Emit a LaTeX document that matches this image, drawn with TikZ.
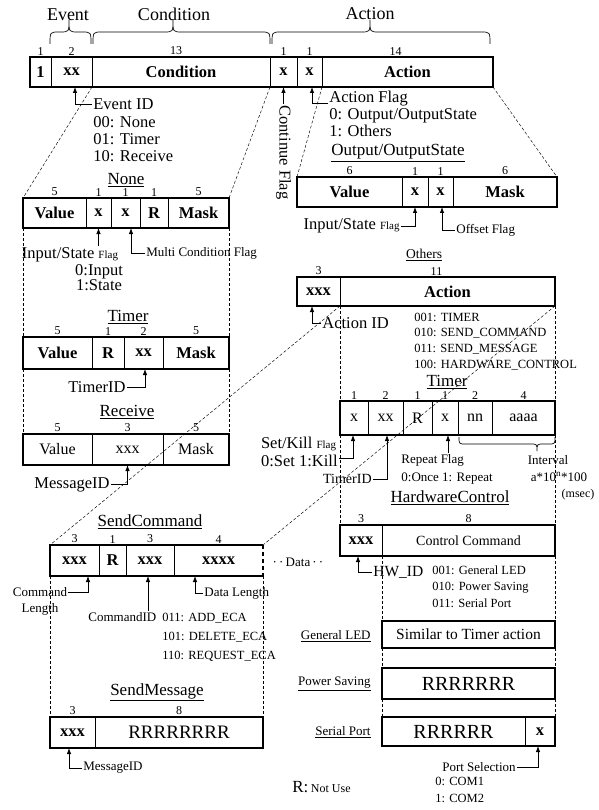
\documentclass[tikz,border=0pt]{standalone}
\usepackage{fontspec}
\setmainfont{Liberation Serif}
\usetikzlibrary{positioning, arrows.meta}
\newcommand{\fsz}[1]{\fontsize{#1}{#1}\selectfont}
% curly brace over a field group: left x, right x, tip x
\newcommand{\hbrace}[3]{\draw[line width=0.7pt] (#1,44) .. controls (#1,32) .. ({#1+9},32) -- ({#3-9},32)
	.. controls (#3,32) .. (#3,20) .. controls (#3,32) .. ({#3+9},32) -- ({#2-9},32)
	.. controls (#2,32) .. (#2,44);}

\begin{document}
\begin{tikzpicture}[x=1pt,y=-1pt,>={Latex[length=6pt,width=4.5pt]},line width=0.8pt]

	\tikzset{cell/.style={draw, inner sep=0pt, outer sep=0pt,
			minimum height=30pt, font=\bfseries\fsz{16.5}}}
	\tikzset{cellr/.style={cell, font=\mdseries\fsz{16}}}
	\tikzset{num/.style={draw=none, inner sep=1.5pt, minimum width=0pt,
			minimum height=0pt, font=\mdseries\fsz{12}}}
	\tikzset{frame/.style={line width=2.8pt}}
	\tikzset{guide/.style={line width=0.45pt, dash pattern=on 3pt off 2pt}}
	\tikzset{ptr/.style={->, line width=0.8pt}}
	\tikzset{ttl/.style={inner sep=1pt, font=\fsz{17}}}
	\tikzset{lbl/.style={inner sep=1pt, align=left, font=\fontsize{16.5}{17.3}\selectfont}}
	\tikzset{sm/.style={inner sep=1pt, align=left, font=\fontsize{13}{16}\selectfont}}

	\useasboundingbox (0,0) rectangle (598,810);

	% main ECA word
	\node[ttl, font=\fsz{18}] (hevent) at (68,15) {Event};
	\node[ttl, font=\fsz{18}] (hcond) at (174,14) {Condition};
	\node[ttl, font=\fsz{18}] (hact) at (370,14) {Action};
	\hbrace{50}{91}{69}
	\hbrace{93}{270}{173}
	\hbrace{272}{490}{370}

	\node[cell, minimum width=21pt, label={[num]above:1}] (t1) at (40.5,72) {1};
	\node[cell, minimum width=41pt, right=0pt of t1, label={[num]above:2}] (t2) {xx};
	\node[cell, minimum width=178pt, right=0pt of t2, label={[num, xshift=-5pt]above:13}] (t3) {Condition};
	\node[cell, minimum width=27pt, right=0pt of t3, label={[num]above:1}] (t4) {x};
	\node[cell, minimum width=25pt, right=0pt of t4, label={[num]above:1}] (t5) {x};
	\node[cell, minimum width=171pt, right=0pt of t5, label={[num, xshift=-12pt]above:14}] (t6) {Action};
	\draw[frame] (t1.north west) rectangle (t6.south east);

	\node[lbl, anchor=west] (evid) at (92,104) {Event ID};
	\node[lbl, anchor=north west] (evlist) at (92,115) {00: None\\01: Timer\\10: Receive};
	\draw[ptr] (evid.west) -| ([xshift=3.5pt]t2.south);
	\node[lbl, rotate=-90, anchor=west] (cflag) at (283.5,104) {Continue Flag};
	\draw[ptr] (cflag.west) -- (t4.south);
	\node[lbl, anchor=west] (aflag) at (328,98.5) {Action Flag};
	\node[lbl, anchor=north west] (aflist) at (328,107) {0: Output/OutputState\\1: Others};
	\draw[ptr] ([yshift=-5pt]aflag.west) -| ([xshift=2.5pt]t5.south);

	% condition: None
	\node[ttl] (ttnone) at (126,180) {\underline{None}};
	\node[cell, minimum width=63pt, label={[num]above:5}] (n1) at (54.5,213) {Value};
	\node[cell, minimum width=25pt, right=0pt of n1, label={[num]above:1}] (n2) {x};
	\node[cell, minimum width=29pt, right=0pt of n2, label={[num]above:1}] (n3) {x};
	\node[cell, minimum width=28pt, right=0pt of n3, label={[num]above:1}] (n4) {R};
	\node[cell, minimum width=61pt, right=0pt of n4, label={[num]above:5}] (n5) {Mask};
	\draw[frame] (n1.north west) rectangle (n5.south east);
	\node[lbl, anchor=north] (nisf) at (70,246) {Input/State {\fsz{11}Flag}};
	\node[lbl, anchor=north, align=center, font=\fontsize{16.5}{15.5}\selectfont] (nislist) at (99,263) {0:Input\\1:State};
	\draw[ptr] (nisf.north -| n2.south) -- (n2.south);
	\node[sm, anchor=west] (mcf) at (145,253) {Multi Condition Flag};
	\draw[ptr] (mcf.west) -| ([xshift=5.5pt]n3.south);

	% condition: Timer
	\node[ttl] (ttltimer) at (128,317) {\underline{Timer}};
	\node[cell, minimum height=32pt, minimum width=69pt, label={[num]above:5}] (lt1) at (57.5,353) {Value};
	\node[cell, minimum height=32pt, minimum width=32pt, right=0pt of lt1, label={[num]above:1}] (lt2) {R};
	\node[cell, minimum height=32pt, minimum width=39pt, right=0pt of lt2, label={[num]above:2}] (lt3) {xx};
	\node[cell, minimum height=32pt, minimum width=66pt, right=0pt of lt3, label={[num]above:5}] (lt4) {Mask};
	\draw[frame] (lt1.north west) rectangle (lt4.south east);
	\node[lbl, anchor=east] (ltid) at (127,387) {TimerID};
	\draw[ptr] (ltid.east) -| ([xshift=1.5pt]lt3.south);

	% condition: Receive
	\node[ttl] (ttrecv) at (127,412) {\underline{Receive}};
	\node[cellr, minimum height=31pt, minimum width=69pt, label={[num]above:5}] (r1) at (57.5,449.5) {Value};
	\node[cellr, minimum height=31pt, minimum width=71pt, right=0pt of r1, label={[num]above:3}] (r2) {xxx};
	\node[cellr, minimum height=31pt, minimum width=66pt, right=0pt of r2, label={[num]above:5}] (r3) {Mask};
	\draw[frame] (r1.north west) rectangle (r3.south east);
	\node[lbl, anchor=east] (rmid) at (111,484.5) {MessageID};
	\draw[ptr] (rmid.east) -| (r2.south);

	% action: Output/OutputState
	\node[ttl] (ttout) at (398,153) {\underline{Output/OutputState}};
	\node[cell, minimum width=105pt, label={[num]above:6}] (oo1) at (349.5,192) {Value};
	\node[cell, minimum width=26pt, right=0pt of oo1, label={[num]above:1}] (oo2) {x};
	\node[cell, minimum width=25pt, right=0pt of oo2, label={[num]above:1}] (oo3) {x};
	\node[cell, minimum width=104pt, right=0pt of oo3, label={[num]above:6}] (oo4) {Mask};
	\draw[frame] (oo1.north west) rectangle (oo4.south east);
	\node[lbl, anchor=east] (oisf) at (401,226) {Input/State {\fsz{11}Flag}};
	\draw[ptr] (oisf.east) -| (oo2.south);
	\node[sm, anchor=west] (offl) at (455,230) {Offset Flag};
	\draw[ptr] (offl.west) -| ([xshift=1.5pt]oo3.south);

	% action: Others
	\node[ttl, font=\fsz{13.5}] (ttothers) at (424,255) {\underline{Others}};
	\node[cell, minimum height=29pt, minimum width=43pt, label={[num]above:3}] (o1) at (318.5,291.5) {xxx};
	\node[cell, minimum height=29pt, minimum width=215pt, right=0pt of o1, label={[num, xshift=-11pt]above:11}] (o2) {Action};
	\draw[frame] (o1.north west) rectangle (o2.south east);
	\node[lbl, anchor=west] (aid) at (321,323) {Action ID};
	\draw[ptr] (aid.west) -| ([xshift=-6.5pt]o1.south);
	\node[sm, anchor=north west, font=\fontsize{12.5}{15.7}\selectfont] (aidlist) at (413,311.5)
		{001: TIMER\\010: SEND\_COMMAND\\011: SEND\_MESSAGE\\100: HARDWARE\_CONTROL};

	% Timer action
	\node[ttl] (ttrtimer) at (447,382) {\underline{Timer}};
	\node[cellr, minimum height=34pt, minimum width=28pt, label={[num]above:1}] (rt1) at (354,418) {x};
	\node[cellr, minimum height=34pt, minimum width=35pt, right=0pt of rt1, label={[num]above:2}] (rt2) {xx};
	\node[cellr, minimum height=34pt, minimum width=29pt, right=0pt of rt2, label={[num]above:1}] (rt3) {R};
	\node[cellr, minimum height=34pt, minimum width=26pt, right=0pt of rt3, label={[num]above:1}] (rt4) {x};
	\node[cellr, minimum height=34pt, minimum width=34pt, right=0pt of rt4, label={[num]above:2}] (rt5) {nn};
	\node[cellr, minimum height=34pt, minimum width=63pt, right=0pt of rt5, label={[num]above:4}] (rt6) {aaaa};
	\draw[frame] (rt1.north west) rectangle (rt6.south east);
	\node[lbl, anchor=north east] (skf) at (339,436) {Set/Kill {\fsz{11}Flag}\\0:Set 1:Kill};
	\draw[ptr] ([yshift=-7pt]skf.east) -| ([xshift=-1pt]rt1.south);
	\node[sm, anchor=east, font=\fsz{14}] (rtid) at (373,479) {TimerID};
	\draw[ptr] (rtid.east) -| ([xshift=1.5pt]rt2.south);
	\node[sm, anchor=north west, font=\fontsize{13}{18}\selectfont] (rpf) at (400,453) {Repeat Flag\\0:Once 1: Repeat};
	\draw[ptr] ([xshift=3pt]rt4.south |- rpf.north) -- ([xshift=3pt]rt4.south);
	\draw[line width=0.7pt] (459,437) .. controls (459,444) .. (466,444) -- (530,444)
		.. controls (537,444) .. (537,451) .. controls (537,444) .. (544,444) -- (548,444)
		.. controls (555,444) .. (555,437);
	\node[sm] (intv) at (548,460) {Interval};
	\node[sm] (intf) at (559,477) {a*10\textsuperscript{n}*100};
	\node[sm, font=\fsz{12}] (msec) at (578,495) {(msec)};

	% HardwareControl action
	\node[ttl] (tthw) at (450,498) {\underline{HardwareControl}};
	\node[cell, minimum height=31pt, minimum width=42pt, label={[num]above:3}] (hw1) at (361,540.5) {xxx};
	\node[cellr, font=\fsz{14}, minimum height=31pt, minimum width=173pt, right=0pt of hw1, label={[num]above:8}] (hw2) {Control Command};
	\draw[frame] (hw1.north west) rectangle (hw2.south east);
	\node[lbl, anchor=west, font=\fsz{15.5}] (hwid) at (372,572) {HW\_ID};
	\draw[ptr] (hwid.west) -| ([xshift=-3pt]hw1.south);
	\node[sm, anchor=north west, font=\fontsize{12.5}{16.5}\selectfont] (hwlist) at (431,564)
		{001: General LED\\010: Power Saving\\011: Serial Port};

	\node[cellr, font=\fsz{15.5}, minimum height=27pt, minimum width=173pt] (led) at (468.5,634.5) {Similar to Timer action};
	\draw[frame] (led.north west) rectangle (led.south east);
	\node[sm, anchor=east] (lbled) at (372,636) {\underline{General LED}};
	\node[cellr, font=\fsz{20}, minimum height=31pt, minimum width=173pt] (pw) at (468.5,683.5) {RRRRRRR};
	\draw[frame] (pw.north west) rectangle (pw.south east);
	\node[sm, anchor=east] (lbpw) at (372,684) {\underline{Power Saving}};
	\node[cellr, font=\fsz{20}, minimum height=29pt, minimum width=143pt] (sp1) at (453.5,731.5) {RRRRRR};
	\node[cell, minimum height=29pt, minimum width=30pt, right=0pt of sp1] (sp2) {x};
	\draw[frame] (sp1.north west) rectangle (sp2.south east);
	\node[sm, anchor=east] (lbsp) at (372,732) {\underline{Serial Port}};
	\node[sm, anchor=east] (psel) at (517,767) {Port Selection};
	\draw[ptr] (psel.east) -| ([xshift=-2pt]sp2.south);
	\node[sm, anchor=north west, font=\fontsize{12.5}{17}\selectfont] (pslist) at (434,776) {0: COM1\\1: COM2};
	\node[anchor=west, inner sep=1pt] (rnote) at (291,787) {{\fsz{17}R:} {\fsz{12}Not Use}};

	% SendCommand action
	\node[ttl] (ttsc) at (150,522) {\underline{SendCommand}};
	\node[cell, minimum height=31pt, minimum width=49pt, label={[num]above:3}] (s1) at (74.5,560.5) {xxx};
	\node[cell, minimum height=31pt, minimum width=27pt, right=0pt of s1, label={[num]above:1}] (s2) {R};
	\node[cell, minimum height=31pt, minimum width=48pt, right=0pt of s2, label={[num]above:3}] (s3) {xxx};
	\node[cell, draw=none, minimum height=31pt, minimum width=89pt, right=0pt of s3, label={[num]above:4}] (s4) {xxxx};
	\draw[frame] (s4.north east) -- (s1.north west) -- (s1.south west) -- (s4.south east);
	\draw[frame, dash pattern=on 4pt off 3pt] (s4.north east) -- (s4.south east);
	\node[sm] (dots) at (298,562) {·\,·\,Data\,·\,·};
	\node[sm, align=center] (cml) at (40,601) {Command\\Length};
	\draw[ptr] ([yshift=9pt]cml.east) -| ([xshift=13.5pt]s1.south);
	\node[sm, anchor=west] (cmid) at (87,617) {CommandID};
	\draw[ptr] ([xshift=-2pt]s3.south |- cmid.north) -- ([xshift=-2pt]s3.south);
	\node[sm, anchor=west] (dlen) at (203,593) {Data Length};
	\draw[ptr] (dlen.west) -| ([xshift=-23.5pt]s4.south);
	\node[sm, anchor=north west, font=\fontsize{12.5}{19}\selectfont] (cmlist) at (161,611.5)
		{011: ADD\_ECA\\101: DELETE\_ECA\\110: REQUEST\_ECA};

	% SendMessage action
	\node[ttl] (ttsm) at (157,692) {\underline{SendMessage}};
	\node[cell, minimum height=31pt, minimum width=45pt, label={[num]above:3}] (m1) at (72.5,732.5) {xxx};
	\node[cellr, font=\fsz{19}, minimum height=31pt, minimum width=168pt, right=0pt of m1, label={[num]above:8}] (m2) {RRRRRRRR};
	\draw[frame] (m1.north west) rectangle (m2.south east);
	\node[sm, anchor=west] (smid) at (82,768) {MessageID};
	\draw[ptr] (smid.west) -| ([xshift=-3.5pt]m1.south);

	% dashed expansion lines
	\draw[guide] (t3.south west) -- (n1.north west) (t3.south east) -- (n5.north east);
	\draw[guide] (n1.south west) -- (lt1.north west) (lt1.south west) -- (r1.north west);
	\draw[guide] (n5.south east) -- (lt4.north east) (lt4.south east) -- (r3.north east);
	\draw[guide] (t6.south west) -- (oo1.north west) (t6.south east) -- (oo4.north east);
	\draw[guide] (o1.south east) -- (rt1.north west) (rt1.south west) -- (hw1.north west);
	\draw[guide] (o2.south east) -- (rt6.north east) (rt6.south east) -- (hw2.north east);
	\draw[guide] (hw2.south west) -- (led.north west) (led.south west) -- (pw.north west)
		(pw.south west) -- (sp1.north west);
	\draw[guide] (hw2.south east) -- (led.north east) (led.south east) -- (pw.north east)
		(pw.south east) -- (sp2.north east);
	\draw[guide] (o1.south east) -- (s1.north west) (o2.south east) -- (s4.north east);
	\draw[guide] (s1.south west) -- (m1.north west) (s4.south east) -- (m2.north east);

\end{tikzpicture}
\end{document}
